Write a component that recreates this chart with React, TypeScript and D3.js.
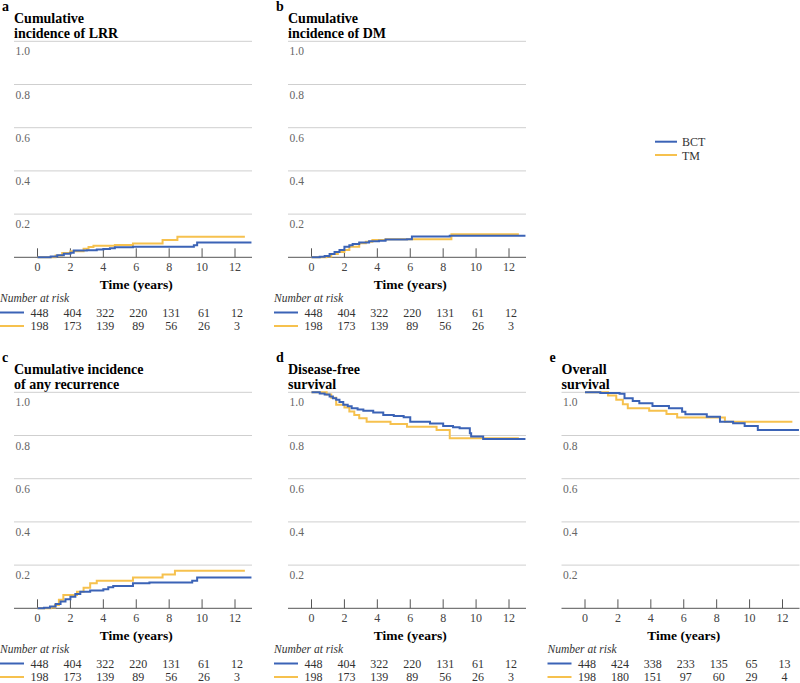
import React from "react";
import * as d3 from "d3";

// time axis + y gridlines
const timeTicks = [0, 2, 4, 6, 8, 10, 12];
const yTicks = [0.2, 0.4, 0.6, 0.8, 1.0];

// step curves, [years, value]
const lrrBCT = [[0, 0], [0.8, 0.004], [1.2, 0.01], [1.6, 0.016], [2.0, 0.021], [2.2, 0.031], [3.0, 0.033], [3.6, 0.036], [4.0, 0.038], [4.4, 0.042], [4.7, 0.046], [5.8, 0.049], [9.5, 0.056], [9.7, 0.069], [13, 0.069]];
const lrrTM = [[0, 0], [1.1, 0.008], [1.5, 0.02], [2.0, 0.028], [2.8, 0.04], [3.1, 0.048], [3.4, 0.054], [4.7, 0.057], [5.8, 0.064], [7.6, 0.08], [8.5, 0.095], [12.6, 0.095]];

const dmBCT = [[0, 0], [0.5, 0.003], [0.8, 0.006], [1.1, 0.015], [1.4, 0.025], [1.7, 0.034], [2.0, 0.049], [2.3, 0.056], [2.5, 0.062], [2.9, 0.068], [3.5, 0.074], [4.1, 0.077], [4.5, 0.082], [5.8, 0.084], [6.1, 0.096], [8.4, 0.1], [13, 0.1]];
const dmTM = [[0, 0], [0.9, 0.004], [1.2, 0.015], [1.6, 0.025], [2.0, 0.034], [2.3, 0.049], [2.9, 0.065], [3.3, 0.072], [3.7, 0.08], [4.5, 0.083], [8.5, 0.107], [12.6, 0.107]];

const anyBCT = [[0, 0], [0.4, 0.002], [0.76, 0.008], [1.1, 0.02], [1.4, 0.031], [1.7, 0.042], [2.0, 0.054], [2.3, 0.066], [2.6, 0.077], [3.2, 0.082], [4.0, 0.088], [4.3, 0.097], [4.6, 0.103], [5.8, 0.116], [6.8, 0.12], [9.4, 0.128], [9.7, 0.143], [13, 0.143]];
const anyTM = [[0, 0], [0.8, 0.004], [1.06, 0.015], [1.3, 0.04], [1.57, 0.061], [2.4, 0.077], [2.8, 0.095], [3.2, 0.116], [3.6, 0.128], [5.8, 0.143], [7.6, 0.157], [8.35, 0.174], [12.6, 0.174]];

const dfsBCT = [[0, 1], [0.5, 0.995], [0.8, 0.99], [1.1, 0.98], [1.3, 0.972], [1.5, 0.965], [1.7, 0.955], [1.93, 0.942], [2.2, 0.935], [2.44, 0.926], [2.8, 0.92], [3.15, 0.915], [3.75, 0.906], [4.36, 0.895], [5.0, 0.89], [5.6, 0.884], [6.0, 0.864], [7.2, 0.856], [8.0, 0.844], [8.6, 0.838], [9.0, 0.833], [9.62, 0.81], [9.7, 0.795], [10.43, 0.784], [13, 0.784]];
const dfsTM = [[0, 1], [0.92, 0.99], [1.2, 0.975], [1.5, 0.942], [2.0, 0.93], [2.3, 0.911], [2.6, 0.895], [2.9, 0.88], [3.35, 0.864], [4.8, 0.853], [5.8, 0.841], [7.6, 0.826], [8.4, 0.787], [12.6, 0.787]];

const osBCT = [[0, 1], [0.93, 0.997], [2.1, 0.993], [2.4, 0.972], [2.9, 0.96], [3.3, 0.949], [4.1, 0.937], [5.1, 0.926], [5.9, 0.91], [6.1, 0.898], [7.4, 0.887], [8.2, 0.864], [9.0, 0.857], [9.7, 0.844], [10.5, 0.826], [13, 0.826]];
const osTM = [[0, 1], [1.4, 0.985], [1.9, 0.965], [2.3, 0.945], [2.6, 0.926], [3.9, 0.915], [4.95, 0.9], [5.6, 0.883], [8.5, 0.864], [12.6, 0.864]];

// number at risk
const riskBCT = [448, 404, 322, 220, 131, 61, 12];
const riskTM = [198, 173, 139, 89, 56, 26, 3];
const riskBCTos = [448, 424, 338, 233, 135, 65, 13];
const riskTMos = [198, 180, 151, 97, 60, 29, 4];

const BLUE = "#3b63b6";
const YELLOW = "#f6c14e";
const SERIF = '"Liberation Serif", "DejaVu Serif", Times, serif';

const x = d3.scaleLinear().domain([0, 12]).range([37.5, 235]);
const y = d3.scaleLinear().domain([0, 1]).range([257.3, 41.3]);
const line = d3
  .line<number[]>()
  .x(d => x(d[0]))
  .y(d => y(d[1]))
  .curve(d3.curveStepAfter);

const Panel = ({ tx, ty, letter, title, bct, tm, rBCT, rTM }) => (
  <g transform={`translate(${tx},${ty})`}>
    <text x={2} y={11} fontWeight="bold" fontSize={14}>{letter}</text>
    {title.map((t, i) => (
      <text key={i} x={14} y={23 + i * 14.5} fontWeight="bold" fontSize={14}>{t}</text>
    ))}
    {yTicks.map(v => (
      <g key={v}>
        <line x1={14} x2={252} y1={y(v)} y2={y(v)} stroke="#cfcfcf" strokeWidth={1} />
        <text x={15.5} y={y(v) + 14} fontSize={11.5} fill="#666">{v.toFixed(1)}</text>
      </g>
    ))}
    <line x1={14} x2={252} y1={y(0)} y2={y(0)} stroke="#555" strokeWidth={1} />
    {timeTicks.map(t => (
      <g key={t}>
        <line x1={x(t)} x2={x(t)} y1={y(0)} y2={y(0) - 9} stroke="#555" strokeWidth={1} />
        <text x={x(t)} y={y(0) + 14} textAnchor="middle" fontSize={12} fill="#444">{t}</text>
      </g>
    ))}
    <text x={x(6)} y={y(0) + 32} textAnchor="middle" fontWeight="bold" fontSize={13.5}>Time (years)</text>
    <path d={line(tm)} fill="none" stroke={YELLOW} strokeWidth={2} />
    <path d={line(bct)} fill="none" stroke={BLUE} strokeWidth={2} />
    <text x={0} y={301.5} fontStyle="italic" fontSize={11.5} fill="#333">Number at risk</text>
    <line x1={0} x2={24} y1={312.5} y2={312.5} stroke={BLUE} strokeWidth={2} />
    <line x1={0} x2={24} y1={326} y2={326} stroke={YELLOW} strokeWidth={2} />
    {rBCT.map((n, i) => (
      <text key={"b" + i} x={x(timeTicks[i]) + 2} y={316.5} textAnchor="middle" fontSize={12} fill="#333">{n}</text>
    ))}
    {rTM.map((n, i) => (
      <text key={"t" + i} x={x(timeTicks[i]) + 2} y={330} textAnchor="middle" fontSize={12} fill="#333">{n}</text>
    ))}
  </g>
);

export default function App() {
  return (
    <svg
      width={800}
      height={683}
      style={{ position: "absolute", left: 0, top: 0, background: "#fff", fontFamily: SERIF }}
    >
      <Panel tx={0} ty={0} letter="a" title={["Cumulative", "incidence of LRR"]} bct={lrrBCT} tm={lrrTM} rBCT={riskBCT} rTM={riskTM} />
      <Panel tx={274} ty={0} letter="b" title={["Cumulative", "incidence of DM"]} bct={dmBCT} tm={dmTM} rBCT={riskBCT} rTM={riskTM} />
      <Panel tx={0} ty={351} letter="c" title={["Cumulative incidence", "of any recurrence"]} bct={anyBCT} tm={anyTM} rBCT={riskBCT} rTM={riskTM} />
      <Panel tx={274} ty={351} letter="d" title={["Disease-free", "survival"]} bct={dfsBCT} tm={dfsTM} rBCT={riskBCT} rTM={riskTM} />
      <Panel tx={547.5} ty={351} letter="e" title={["Overall", "survival"]} bct={osBCT} tm={osTM} rBCT={riskBCTos} rTM={riskTMos} />
      <g>
        <line x1={655} x2={677} y1={141.7} y2={141.7} stroke={BLUE} strokeWidth={2} />
        <text x={682} y={146} fontSize={12} fill="#333">BCT</text>
        <line x1={655} x2={677} y1={155} y2={155} stroke={YELLOW} strokeWidth={2} />
        <text x={682} y={159.5} fontSize={12} fill="#333">TM</text>
      </g>
    </svg>
  );
}
